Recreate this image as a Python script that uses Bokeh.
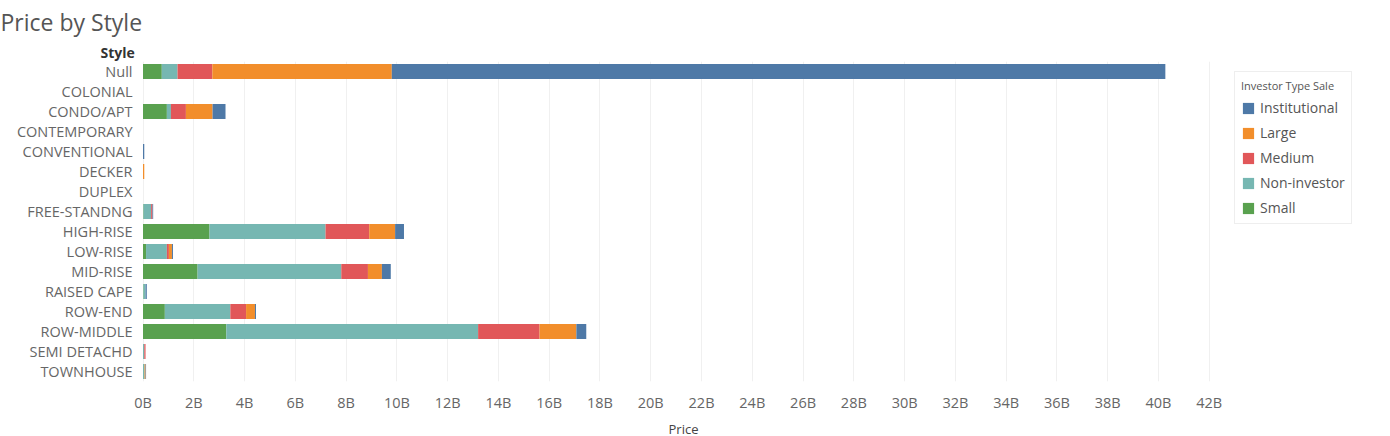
from bokeh.plotting import figure
from bokeh.models import FactorRange, Range1d, Legend, LegendItem, PrintfTickFormatter, SingleIntervalTicker, Title, Span
from bokeh.embed import file_html
from bokeh.resources import INLINE

# price in billions, by style and investor type
styles = ["Null", "COLONIAL", "CONDO/APT", "CONTEMPORARY", "CONVENTIONAL", "DECKER", "DUPLEX",
          "FREE-STANDNG", "HIGH-RISE", "LOW-RISE", "MID-RISE", "RAISED CAPE", "ROW-END",
          "ROW-MIDDLE", "SEMI DETACHD", "TOWNHOUSE"]
small = [0.74, 0, 0.94, 0, 0, 0, 0, 0.02, 2.62, 0.12, 2.15, 0.02, 0.86, 3.28, 0.0, 0.0]
non_investor = [0.62, 0, 0.16, 0, 0, 0, 0, 0.30, 4.57, 0.82, 5.66, 0.08, 2.58, 9.92, 0.05, 0.06]
medium = [1.37, 0, 0.59, 0, 0, 0, 0, 0.05, 1.72, 0.08, 1.05, 0.0, 0.62, 2.42, 0.05, 0.0]
large = [7.07, 0, 1.05, 0, 0, 0.05, 0, 0.0, 1.02, 0.12, 0.55, 0.0, 0.35, 1.45, 0.0, 0.04]
institutional = [30.47, 0, 0.51, 0, 0.05, 0, 0, 0.03, 0.35, 0.04, 0.35, 0.05, 0.04, 0.39, 0.0, 0.02]

series = ["Small", "Non-investor", "Medium", "Large", "Institutional"]
colors = ["#59a14f", "#76b7b2", "#e15759", "#f28e2b", "#4e79a7"]

data = {"style": styles, "Small": small, "Non-investor": non_investor, "Medium": medium,
        "Large": large, "Institutional": institutional}

p = figure(frame_width=1082, frame_height=320, y_range=FactorRange(*reversed(styles)),
           x_range=Range1d(-0.02, 42.6), output_backend="svg", toolbar_location=None,
           title="Price by Style", min_border_left=142, min_border_right=0, min_border_top=8,
           min_border_bottom=0)

renderers = p.hbar_stack(series, y="style", height=0.75, color=colors, source=data, line_color=None)

p.title.text_font = "Open Sans"
p.title.text_font_size = "23px"
p.title.text_font_style = "normal"
p.title.text_color = "#555555"
p.title.offset = -142
p.title.standoff = 6

p.add_layout(Title(text="Style", align="left", offset=-42, text_font="Open Sans", text_font_size="14px",
                   text_font_style="bold", text_color="#333333", standoff=0), "above")

p.outline_line_color = None
p.ygrid.grid_line_color = None
p.xgrid.grid_line_color = "#f0f0f0"
p.xaxis.ticker = SingleIntervalTicker(interval=2)
p.xaxis.formatter = PrintfTickFormatter(format="%dB")
p.xaxis.axis_label = "Price"
p.yaxis.major_label_standoff = 4
for ax in (p.xaxis, p.yaxis):
    ax.axis_line_color = None
    ax.major_tick_line_color = None
    ax.minor_tick_line_color = None
    ax.major_label_text_font = "Open Sans"
    ax.major_label_text_font_size = "14.5px"
    ax.major_label_text_color = "#666666"
    ax.axis_label_text_font = "Open Sans"
    ax.axis_label_text_font_style = "normal"

items = [LegendItem(label=s, renderers=[r]) for s, r in zip(series, renderers)]
legend = Legend(items=list(reversed(items)), location="top_left", title="Investor Type Sale",
                title_text_font="Open Sans", title_text_font_size="11px", title_text_font_style="normal",
                title_text_color="#555555", label_text_font="Open Sans", label_text_font_size="14px",
                label_text_color="#555555", glyph_width=14, glyph_height=14, spacing=6,
                border_line_color="#dddddd", background_fill_color="white", margin=10, padding=6,
                label_height=14)
p.add_layout(legend, "right")

open("out.html", "w").write(file_html(p, INLINE))
